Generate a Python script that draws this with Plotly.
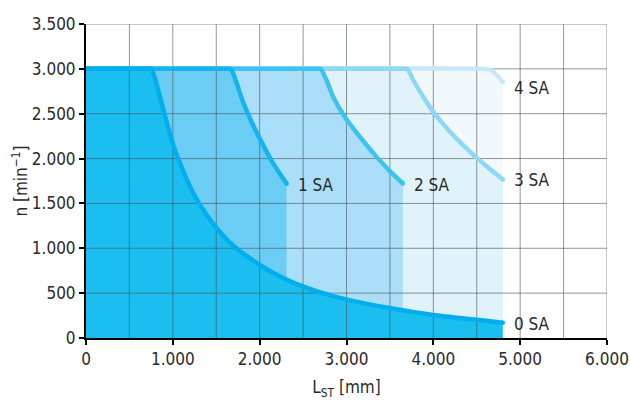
import numpy as np
import plotly.graph_objects as go

# Permissible speed n over stroke length L_ST for 0-4 support units (SA)
labels = ["4 SA", "3 SA", "2 SA", "1 SA", "0 SA"]

x_4sa = [0, 4580, 4660, 4731, 4800]
y_4sa = [3000, 3000, 2990, 2929, 2854]

x_3sa = [0, 3650, 3700, 3770, 3885, 4000, 4193, 4385, 4539, 4692, 4800]
y_3sa = [3000, 3000, 3000, 2873, 2687, 2520, 2297, 2112, 1974, 1852, 1767]

x_2sa = [0, 2650, 2701, 2770, 2847, 2993, 3155, 3347, 3508, 3650]
y_2sa = [3000, 3000, 3000, 2873, 2687, 2446, 2242, 2019, 1852, 1722]

x_1sa = [0, 1620, 1668, 1725, 1802, 1916, 2031, 2145, 2310]
y_1sa = [3000, 3000, 3000, 2870, 2648, 2389, 2167, 1963, 1720]

x_0sa = [0, 700, 752, 847, 924, 1000, 1115, 1229, 1382, 1508, 1687, 2000,
         2298, 2462, 2679, 2993, 3508, 4000, 4531, 4800]
y_0sa = [3000, 3000, 3000, 2705, 2426, 2167, 1870, 1625, 1382, 1222, 1037, 815,
         655, 590, 515, 431, 331, 256, 200, 170]

x_tickvals = [0, 1000, 2000, 3000, 4000, 5000, 6000]
x_ticktext = ["0", "1.000", "2.000", "3.000", "4.000", "5.000", "6.000"]
y_tickvals = [0, 500, 1000, 1500, 2000, 2500, 3000, 3500]
y_ticktext = ["0", "500", "1.000", "1.500", "2.000", "2.500", "3.000", "3.500"]

xs = [x_4sa, x_3sa, x_2sa, x_1sa, x_0sa]
ys = [y_4sa, y_3sa, y_2sa, y_1sa, y_0sa]

fill_colors = ["#F1F9FD", "#E0F3FB", "#ABDFF9", "#6CCDF4", "#1ABFEF"]
line_colors = ["#C6E9F9", "#8ED8F5", "#3EC3F0", "#14B4EE", "#00AEEF"]

X_MAX, Y_MAX = 6000, 3500
X_GRID, Y_GRID = 500, 500

FONT = "DejaVu Sans Condensed, Roboto, sans-serif"
FS = 17
TEXT = "#2a2a2a"
LW = 4.5
SMOOTH = 0.7

fig = go.Figure()

# area fills, largest envelope first
for x, y, fc in zip(xs, ys, fill_colors):
    fig.add_trace(go.Scatter(
        x=x, y=y, mode="lines", fill="tozeroy", fillcolor=fc,
        line=dict(width=0, shape="spline", smoothing=SMOOTH),
        hoverinfo="skip", showlegend=False))

# grid drawn over the fills but under the curves
gx, gy = [], []
for v in np.arange(X_GRID, X_MAX, X_GRID):
    gx += [v, v, None]
    gy += [0, Y_MAX, None]
for v in np.arange(Y_GRID, Y_MAX, Y_GRID):
    gx += [0, X_MAX, None]
    gy += [v, v, None]
fig.add_trace(go.Scatter(
    x=gx, y=gy, mode="lines",
    line=dict(color="rgba(70,80,85,0.6)", width=1),
    hoverinfo="skip", showlegend=False))

# curves with round end caps and their labels
for x, y, lc, lab in zip(xs, ys, line_colors, labels):
    fig.add_trace(go.Scatter(
        x=x, y=y, mode="lines", name=lab,
        line=dict(color=lc, width=LW, shape="spline", smoothing=SMOOTH),
        showlegend=False))
    fig.add_trace(go.Scatter(
        x=[x[-1]], y=[y[-1]], mode="markers",
        marker=dict(color=lc, size=LW, line=dict(width=0)),
        hoverinfo="skip", showlegend=False, cliponaxis=False))
    fig.add_annotation(
        x=x[-1], y=y[-1], text=lab, showarrow=False,
        xanchor="left", yanchor="middle",
        xshift=9, yshift=-6 if lab == "4 SA" else -1,
        font=dict(family=FONT, size=FS, color=TEXT))

# top and right frame in grid colour
fig.add_shape(type="line", xref="x", yref="y", x0=0, x1=X_MAX, y0=Y_MAX, y1=Y_MAX,
              line=dict(color="#8C9194", width=1), layer="above")
fig.add_shape(type="line", xref="x", yref="y", x0=X_MAX, x1=X_MAX, y0=0, y1=Y_MAX,
              line=dict(color="#8C9194", width=1), layer="above")

fig.update_layout(
    width=630, height=403,
    margin=dict(l=86, r=23, t=24, b=65, autoexpand=False),
    paper_bgcolor="white", plot_bgcolor="white",
    font=dict(family=FONT, size=FS, color=TEXT),
)
fig.update_xaxes(
    range=[0, X_MAX], tickvals=x_tickvals, ticktext=x_ticktext,
    showgrid=False, zeroline=False, automargin=False,
    showline=True, linecolor="black", linewidth=2,
    ticks="outside", ticklen=5, tickwidth=1.5, tickcolor="black",
    ticklabeloverflow="allow",
    tickfont=dict(family=FONT, size=FS, color=TEXT),
    title=dict(text="L<sub>ST</sub> [mm]", standoff=13,
               font=dict(family=FONT, size=FS, color=TEXT)),
)
fig.update_yaxes(
    range=[0, Y_MAX], tickvals=y_tickvals, ticktext=y_ticktext,
    showgrid=False, zeroline=False, automargin=False,
    showline=True, linecolor="black", linewidth=2,
    ticks="outside", ticklen=5, tickwidth=1.5, tickcolor="black",
    tickfont=dict(family=FONT, size=FS, color=TEXT),
    title=dict(text="n [min<sup>−1</sup>]", standoff=0,
               font=dict(family=FONT, size=FS, color=TEXT)),
)

fig.write_html("out.html")
